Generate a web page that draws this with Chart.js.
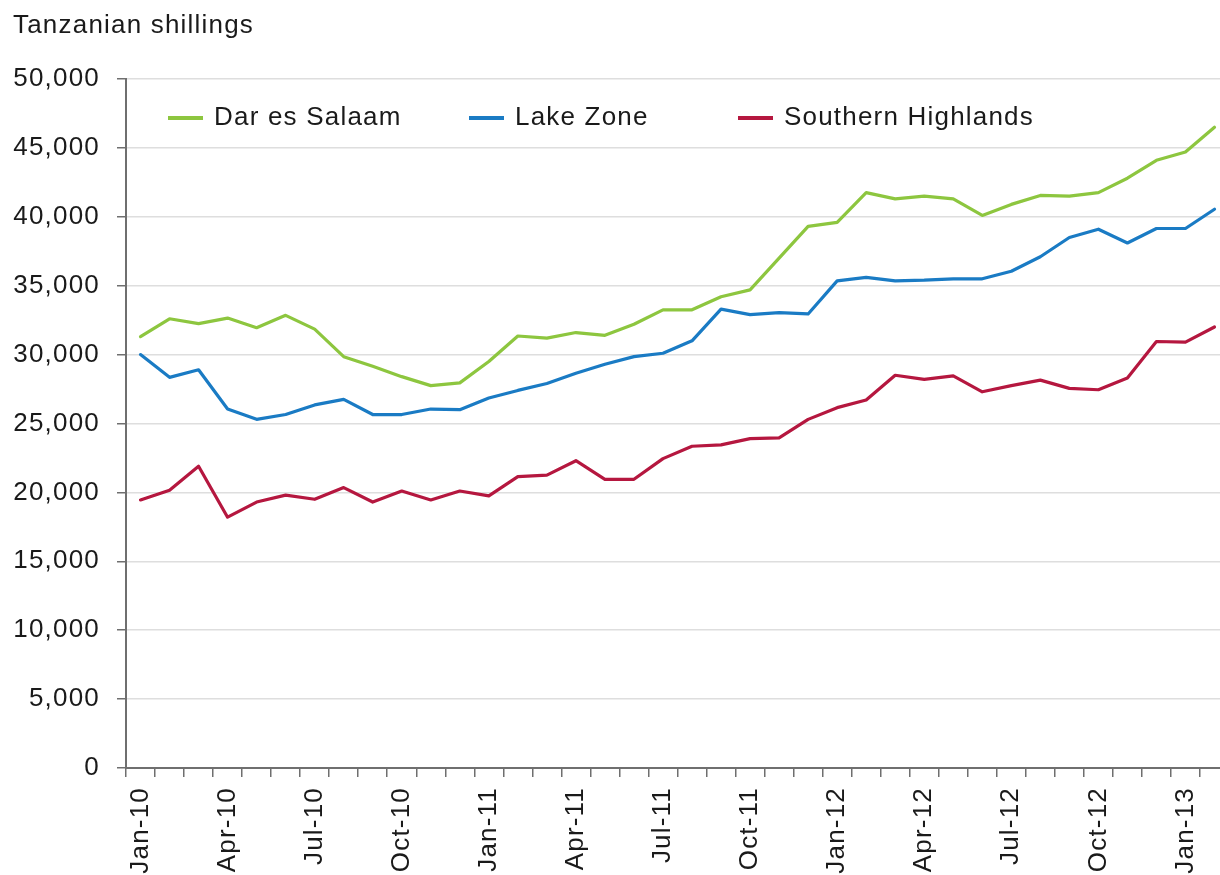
<!DOCTYPE html>
<html>
<head>
<meta charset="utf-8">
<script src="https://cdn.jsdelivr.net/npm/chart.js@4.4.0/dist/chart.umd.min.js"></script>
<style>
html,body{margin:0;padding:0;overflow:hidden;background:#ffffff;width:1220px;height:875px}
canvas{display:block}
</style>
</head>
<body>
<canvas id="c" width="1230" height="875"></canvas>
<script>
// ---- data ----
const categories = [
  'Jan-10','Feb-10','Mar-10','Apr-10','May-10','Jun-10','Jul-10','Aug-10','Sep-10','Oct-10','Nov-10','Dec-10',
  'Jan-11','Feb-11','Mar-11','Apr-11','May-11','Jun-11','Jul-11','Aug-11','Sep-11','Oct-11','Nov-11','Dec-11',
  'Jan-12','Feb-12','Mar-12','Apr-12','May-12','Jun-12','Jul-12','Aug-12','Sep-12','Oct-12','Nov-12','Dec-12',
  'Jan-13','Feb-13'
];
const darEsSalaam = [
  31300,32600,32250,32650,31950,32850,31850,29850,29150,28400,27750,27950,
  29500,31350,31200,31600,31400,32200,33250,33250,34200,34700,37000,39300,
  39600,41750,41300,41500,41300,40100,40900,41550,41500,41750,42800,44100,
  44700,46500
];
const lakeZone = [
  30000,28350,28900,26050,25300,25650,26350,26750,25650,25650,26050,26000,
  26850,27400,27900,28650,29300,29850,30100,31000,33300,32900,33050,32950,
  35350,35600,35350,35400,35500,35500,36050,37100,38500,39100,38100,39150,
  39150,40550
];
const southernHighlands = [
  19450,20150,21900,18200,19300,19800,19500,20350,19300,20100,19450,20100,
  19750,21150,21250,22300,20950,20950,22450,23350,23450,23900,23950,25300,
  26150,26700,28500,28200,28450,27300,27750,28150,27550,27450,28300,30950,
  30900,32000
];
const seriesNames = ['Dar es Salaam','Lake Zone','Southern Highlands'];
const yMin = 0, yMax = 50000, yStep = 5000;
const yAxisTitle = 'Tanzanian shillings';

// ---- styling ----
const FAMILY = "'Liberation Sans', Arial, Helvetica, sans-serif";
const TEXT = '#1a1a1a';
const SPACING = '1.2px';
const AXIS = '#6f6f6f';

const spacingPlugin = {
  id: 'spacing',
  beforeUpdate(chart){ chart.ctx.letterSpacing = SPACING; },
  beforeDraw(chart){ chart.ctx.letterSpacing = SPACING; }
};

const overlayPlugin = {
  id: 'overlay',
  afterDraw(chart, args, opts){
    const ctx = chart.ctx;
    ctx.save();
    ctx.letterSpacing = SPACING;
    ctx.font = '26px ' + FAMILY;
    ctx.fillStyle = TEXT;
    ctx.textBaseline = 'alphabetic';
    ctx.textAlign = 'left';
    ctx.fillText(yAxisTitle, opts.titleX, opts.titleY);
    chart.data.datasets.forEach((ds, i) => {
      const x = opts.legendX[i];
      ctx.strokeStyle = ds.borderColor;
      ctx.lineWidth = 4;
      ctx.beginPath();
      ctx.moveTo(x, opts.legendLineY);
      ctx.lineTo(x + opts.legendLineLen, opts.legendLineY);
      ctx.stroke();
      ctx.fillText(ds.label, x + opts.legendLineLen + 11, opts.legendTextY);
    });
    ctx.restore();
  }
};

new Chart(document.getElementById('c'), {
  type: 'line',
  data: {
    labels: categories,
    datasets: [
      { label: seriesNames[0], data: darEsSalaam, borderColor: '#8dc63f', backgroundColor: '#8dc63f' },
      { label: seriesNames[1], data: lakeZone, borderColor: '#1a7bc4', backgroundColor: '#1a7bc4' },
      { label: seriesNames[2], data: southernHighlands, borderColor: '#b5173f', backgroundColor: '#b5173f' }
    ]
  },
  plugins: [spacingPlugin, overlayPlugin],
  options: {
    responsive: false,
    animation: false,
    layout: { padding: { left: 13, top: 79, right: 1, bottom: 1 } },
    elements: {
      point: { radius: 0, hoverRadius: 0 },
      line: { borderWidth: 3.2, tension: 0, borderCapStyle: 'round', borderJoinStyle: 'round' }
    },
    plugins: {
      legend: { display: false },
      title: { display: false },
      tooltip: { enabled: false },
      overlay: {
        titleX: 13, titleY: 33,
        legendX: [168, 469, 738], legendLineY: 118, legendLineLen: 35, legendTextY: 125
      }
    },
    scales: {
      x: {
        type: 'category',
        offset: true,
        afterFit(scale){ scale.height = 106; scale.paddingLeft = 0; scale.paddingRight = 0; },
        grid: { display: true, drawOnChartArea: false, drawTicks: true, tickLength: 9, offset: true, color: AXIS, lineWidth: 1.5 },
        border: { display: true, color: AXIS, width: 2 },
        ticks: {
          autoSkip: false, maxRotation: 90, minRotation: 90, padding: 10, color: TEXT,
          font: { family: FAMILY, size: 26 },
          callback: (v, i) => (i % 3 === 0 ? categories[i] : '')
        }
      },
      y: {
        min: yMin, max: yMax,
        afterFit(scale){ scale.width = 113; scale.paddingTop = 0; scale.paddingBottom = 0; },
        ticks: {
          stepSize: yStep, padding: 17, color: TEXT,
          font: { family: FAMILY, size: 26 },
          callback: v => Number(v).toLocaleString('en-US')
        },
        grid: { color: '#dedede', lineWidth: 1.5, drawTicks: true, tickLength: 9, tickColor: AXIS },
        border: { display: true, color: AXIS, width: 2 }
      }
    }
  }
});
</script>
</body>
</html>
